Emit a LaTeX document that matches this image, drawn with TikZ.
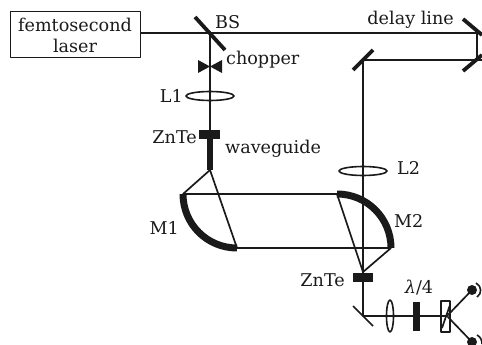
\documentclass[tikz,border=0pt]{standalone}
\usepackage{fontspec}
\setmainfont{DejaVu Serif}
\usetikzlibrary{arrows.meta,calc,positioning}
\definecolor{optInk}{HTML}{1A1A1A}
\begin{document}
\begin{tikzpicture}[x=1pt,y=-1pt,>=Latex,line join=round,every node/.style={text=optInk,font=\fontsize{17.6}{22}\selectfont,inner sep=0pt}]
\useasboundingbox (0,0) rectangle (482,345);
\tikzset{beam/.style={draw=optInk,line width=1.7pt},mirror/.style={draw=optInk,line width=3.8pt},thinmirror/.style={draw=optInk,line width=1.7pt},plate/.style={draw=none,fill=optInk},lens/.style={draw=optInk,line width=1.6pt},curved/.style={draw=optInk,line width=7pt}}
% coordinates of the beam path
\coordinate (bs) at (210,33); \coordinate (delayTop) at (477,33); \coordinate (delayBot) at (477,60);
\coordinate (foldTop) at (363,60); \coordinate (m1a) at (183,194); \coordinate (m1b) at (237,248);
\coordinate (m2a) at (337,194); \coordinate (m2b) at (391,248); \coordinate (wgEnd) at (210,170);
\coordinate (znteTwo) at (363,272); \coordinate (foldBot) at (363,316); \coordinate (split) at (447,316);
\coordinate (edgeTop) at (482,33); \coordinate (edgeBot) at (482,60);
\node[draw=optInk,line width=1pt,minimum width=130pt,minimum height=46pt,align=center] (laser) at (75,35) {femtosecond\\[-1pt]laser};
\draw[beam] (laser.east|-bs) -- (edgeTop);
\draw[beam] (bs) -- (210,131);
\draw[mirror] (195,17) -- (225,50);
\node[anchor=west] (bsLabel) at (215,22) {BS};
\node[anchor=east] (delayLabel) at (454,20) {delay line};
% delay mirrors
\draw[mirror] (463,19) -- (482,35); \draw[mirror] (463,71) -- (482,55);
\draw[beam] (477,33) -- (delayBot);
\draw[beam] (foldTop) -- (edgeBot);
\draw[mirror] (353,70) -- (373,50);
\draw[beam] (foldTop) -- (znteTwo);
% chopper
\path[plate] (198,60) -- (210,66.5) -- (198,73) -- cycle;
\path[plate] (222,60) -- (210,66.5) -- (222,73) -- cycle;
\node[anchor=west] (chopLabel) at (226,60) {chopper};
\draw[lens] (210,96) ellipse (24 and 4.5);
\node[anchor=east] (lOne) at (183,96) {L1};
\path[plate] (199,130) rectangle (220,139);
\node[anchor=east] (znteOne) at (197,137) {ZnTe};
\draw[draw=optInk,line width=6pt] (210,139) -- (wgEnd);
\node[anchor=west] (wgLabel) at (225,149) {waveguide};
% parabolic mirrors
\draw[beam] (wgEnd) -- (m1a) -- (m2a);
\draw[beam] (wgEnd) -- (m1b) -- (m2b);
\draw[curved] (m1a) .. controls (183,224) and (207,248) .. (m1b);
\draw[curved] (m2a) .. controls (367,194) and (391,218) .. (m2b);
\draw[beam] (m2a) -- (znteTwo) -- (m2b);
\node[anchor=east] (mOne) at (179,228) {M1};
\node[anchor=west] (mTwo) at (394,221) {M2};
\draw[lens] (363,171) ellipse (24 and 4.5);
\node[anchor=west] (lTwo) at (397,168) {L2};
\path[plate] (353,273) rectangle (373,282);
\node[anchor=east] (znteLabel) at (345,280) {ZnTe};
% detection arm
\draw[beam] (znteTwo) -- (foldBot) -- (split);
\draw[thinmirror] (353,306) -- (373,326);
\draw[lens] (390,316) ellipse (3.5 and 16);
\path[plate] (413,302) rectangle (420,331);
\node (qwLabel) at (419,288) {\textit{λ}/4};
\draw[lens,fill=white] (441,301) rectangle (450,332);
\draw[beam] (441,316) -- (split);
\draw[beam] (442,328) -- (450,305);
\fill[optInk] (472,290) circle (5) coordinate (detTop);
\fill[optInk] (472,342) circle (5) coordinate (detBot);
\draw[beam] (split) -- (detTop);
\draw[beam] (split) -- (detBot);
\draw[lens] (476,283) .. controls (482,286) and (482,294) .. (477,297);
\draw[lens] (477,335) .. controls (481,337) and (482,341) .. (482,344);
\end{tikzpicture}
\end{document}
